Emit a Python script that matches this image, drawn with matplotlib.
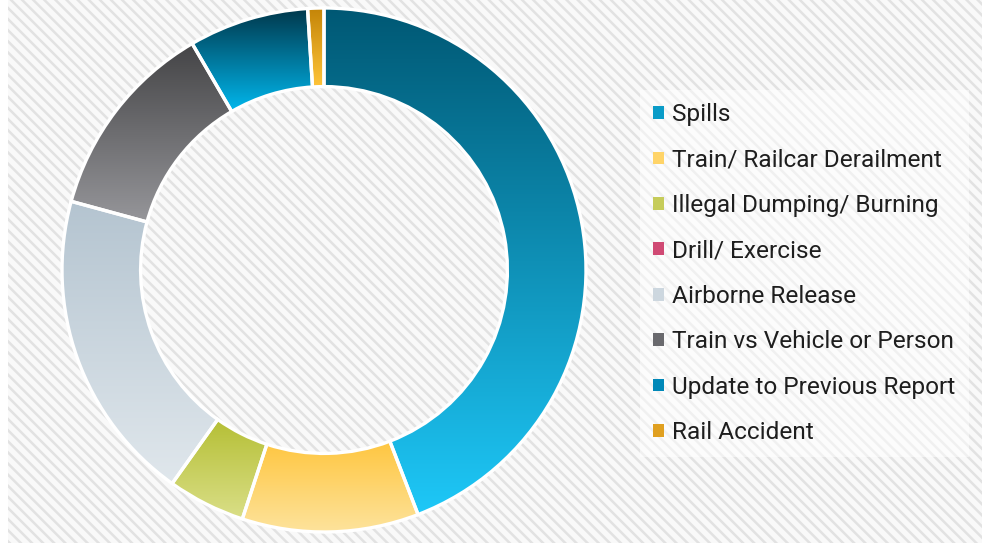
import numpy as np
import matplotlib.pyplot as plt
from matplotlib.colors import LinearSegmentedColormap
from matplotlib.patches import Rectangle, Patch

labels = ["Spills", "Train/ Railcar Derailment", "Illegal Dumping/ Burning",
          "Drill/ Exercise", "Airborne Release", "Train vs Vehicle or Person",
          "Update to Previous Report", "Rail Accident"]
values = [44.2, 10.9, 4.8, 0.0, 19.4, 12.4, 7.4, 1.0]
top_colors = ["#005874", "#ffc640", "#b5bf35", "#c2305c",
              "#b4c4d0", "#444446", "#00384c", "#c48508"]
bottom_colors = ["#1ec8f8", "#fde39c", "#dadf88", "#e0608a",
                 "#e0e7ec", "#96969a", "#00b8ee", "#ffc43a"]
legend_colors = ["#0a9cc8", "#ffd468", "#c6cc5a", "#d04a74",
                 "#cdd7df", "#6a6a6e", "#0088b8", "#e0a020"]

plt.rcParams['font.family'] = ['Roboto', 'DejaVu Sans']
plt.rcParams['hatch.linewidth'] = 1.8

fig = plt.figure(figsize=(9.87, 5.46), dpi=100)
fig.patch.set_facecolor("white")

# hatched backdrop
bg = fig.add_axes([0, 0, 1, 1])
bg.set_axis_off()
bg.add_patch(Rectangle((0.008, 0.005), 0.987, 0.995, transform=bg.transAxes,
                       facecolor="#f9f9f9", edgecolor="#e2e2e2",
                       hatch="\\\\\\", linewidth=0))
bg.set_xlim(0, 1)
bg.set_ylim(0, 1)

W, H = 987, 546
cx, cy, r = 324, 270, 262
ax = fig.add_axes([(cx - r) / W, (H - cy - r) / H, 2 * r / W, 2 * r / H])
ax.set_axis_off()

wedges, _ = ax.pie(values, radius=1, startangle=90, counterclock=False,
                   wedgeprops=dict(width=0.3, edgecolor="white", linewidth=2.4))
ax.set_xlim(-1, 1)
ax.set_ylim(-1, 1)

grad = np.linspace(0, 1, 256).reshape(-1, 1)
for w, c0, c1, v in zip(wedges, top_colors, bottom_colors, values):
    if v <= 0:
        w.set_visible(False)
        continue
    ext = w.get_path().get_extents()
    cmap = LinearSegmentedColormap.from_list("g", [c0, c1])
    im = ax.imshow(grad, cmap=cmap, aspect="auto", origin="upper",
                   extent=(ext.x0, ext.x1, ext.y0, ext.y1), zorder=1)
    im.set_clip_path(w)
    w.set_facecolor("none")
    w.set_zorder(3)

handles = [Patch(facecolor=c, edgecolor="none") for c in legend_colors]
leg = fig.legend(handles, labels, loc="upper left",
                 bbox_to_anchor=(640 / W, 1 - 90 / H),
                 fontsize=17.6, frameon=True, handlelength=0.42,
                 handleheight=0.42, handletextpad=0.34, labelspacing=0.915,
                 borderpad=0.55, borderaxespad=0, fancybox=False)
leg.get_frame().set_facecolor("white")
leg.get_frame().set_alpha(0.5)
leg.get_frame().set_linewidth(0)
for t in leg.get_texts():
    t.set_color("#1e1e1e")

fig.savefig("out.png", dpi=100)
